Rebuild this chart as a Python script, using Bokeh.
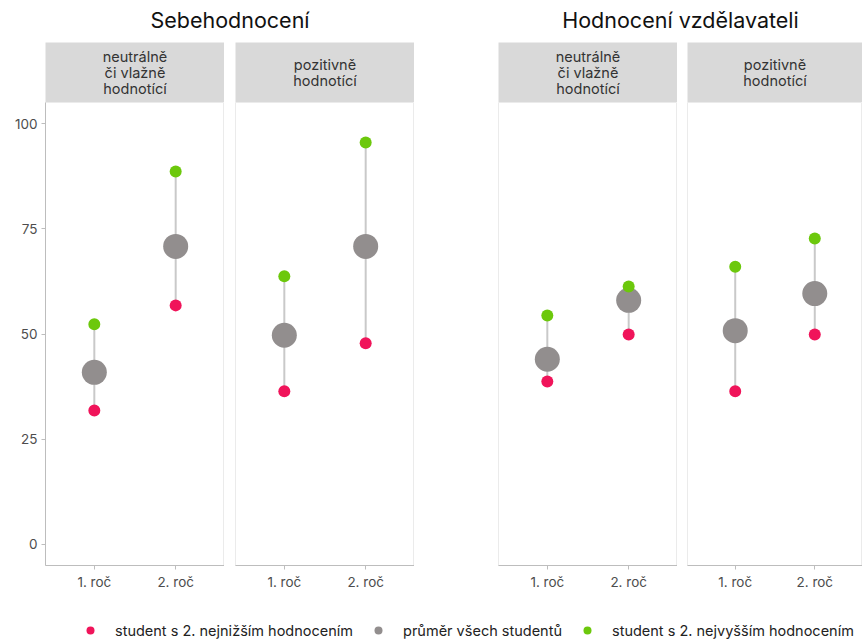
from bokeh.plotting import figure
from bokeh.layouts import column, row
from bokeh.models import Range1d, FactorRange, FixedTicker, ColumnDataSource, Legend, LegendItem
from bokeh.embed import file_html
from bokeh.resources import INLINE
from bokeh.core.properties import value

FONT = "Inter"

# ---------------- data ----------------
groups = ["Sebehodnocení", "Hodnocení vzdělavateli"]
facets = ["neutrálně\nči vlažně\nhodnotící", "pozitivně\nhodnotící"]
years = ["1. roč", "2. roč"]
y_ticks = [0, 25, 50, 75, 100]
series_labels = ["student s 2. nejnižším hodnocením",
                 "průměr všech studentů",
                 "student s 2. nejvyšším hodnocením"]

sebe_neutral_low = [31.8, 56.8]
sebe_neutral_mean = [40.9, 70.8]
sebe_neutral_high = [52.3, 88.6]

sebe_positive_low = [36.4, 47.8]
sebe_positive_mean = [49.7, 70.8]
sebe_positive_high = [63.7, 95.5]

vzdel_neutral_low = [38.7, 49.9]
vzdel_neutral_mean = [44.0, 58.0]
vzdel_neutral_high = [54.4, 61.3]

vzdel_positive_low = [36.4, 49.9]
vzdel_positive_mean = [50.8, 59.6]
vzdel_positive_high = [66.0, 72.7]

panels = [
    (facets[0], sebe_neutral_low, sebe_neutral_mean, sebe_neutral_high),
    (facets[1], sebe_positive_low, sebe_positive_mean, sebe_positive_high),
    (facets[0], vzdel_neutral_low, vzdel_neutral_mean, vzdel_neutral_high),
    (facets[1], vzdel_positive_low, vzdel_positive_mean, vzdel_positive_high),
]

# ---------------- style ----------------
RED = "#F0145A"
GREY = "#928E8E"
GREEN = "#6CC80C"
SEG = "#C9C9C9"
STRIP = "#D9D9D9"
AXIS = "#BDBDBD"
TXT = "#4D4D4D"

frame_w = [179, 179, 179, 175]
border_l = [45, 11, 84, 10]
TITLE_H = 42
STRIP_H = 60
FRAME_H = 463
BOTTOM = 28
LEGEND_H = 47


def strip_fig(i, label):
    p = figure(width=border_l[i] + frame_w[i], height=STRIP_H,
               x_range=Range1d(0, 1), y_range=Range1d(0, 1),
               output_backend="svg", toolbar_location=None,
               x_axis_location=None, y_axis_location=None,
               min_border_left=border_l[i], min_border_right=0,
               min_border_top=0, min_border_bottom=0,
               background_fill_color=STRIP, border_fill_color="white",
               outline_line_color=None)
    p.grid.grid_line_color = None
    p.text(x=[0.5], y=[0.5], text=[label], text_align="center",
           text_baseline="middle", text_font=value(FONT),
           text_font_size="14.5px", text_color="#333333", text_line_height=0.92)
    return p


def panel_fig(i, low, mean, high):
    p = figure(width=border_l[i] + frame_w[i], height=FRAME_H + BOTTOM,
               x_range=FactorRange(*years, range_padding=0.1, range_padding_units="percent"),
               y_range=Range1d(-5, 105),
               output_backend="svg", toolbar_location=None,
               y_axis_location="left" if i == 0 else None,
               min_border_left=border_l[i], min_border_right=0,
               min_border_top=0, min_border_bottom=BOTTOM,
               background_fill_color="white", border_fill_color="white",
               outline_line_color="#EBEBEB")
    p.grid.grid_line_color = None
    for ax in p.axis:
        ax.axis_line_color = AXIS
        ax.major_tick_line_color = AXIS
        ax.minor_tick_line_color = None
        ax.major_tick_out = 4
        ax.major_tick_in = 0
        ax.major_label_text_font = FONT
        ax.major_label_text_font_size = "13.5px"
        ax.major_label_text_color = TXT
        ax.major_label_standoff = 4
    if i == 0:
        p.yaxis.ticker = FixedTicker(ticks=y_ticks)
    src = ColumnDataSource(dict(year=years, low=low, mean=mean, high=high))
    p.segment(x0="year", y0="low", x1="year", y1="high", source=src,
              line_color=SEG, line_width=2)
    p.scatter(x="year", y="mean", source=src, size=25, fill_color=GREY,
              line_color=None)
    p.scatter(x="year", y="low", source=src, size=12, fill_color=RED,
              line_color=None)
    p.scatter(x="year", y="high", source=src, size=12, fill_color=GREEN,
              line_color=None)
    return p


def title_fig(text, width, bl):
    p = figure(width=width, height=TITLE_H, title=text,
               x_range=Range1d(0, 1), y_range=Range1d(0, 1),
               output_backend="svg", toolbar_location=None,
               x_axis_location=None, y_axis_location=None,
               min_border_left=bl, min_border_right=0,
               min_border_top=32, min_border_bottom=0,
               outline_line_color=None, border_fill_color="white")
    p.grid.grid_line_color = None
    p.title.align = "center"
    p.title.vertical_align = "bottom"
    p.title.text_font = FONT
    p.title.text_font_size = "21.5px"
    p.title.text_font_style = "normal"
    p.title.text_color = "#111111"
    p.title.standoff = 0
    return p


t1 = title_fig(groups[0], border_l[0] + frame_w[0] + border_l[1] + frame_w[1], border_l[0])
t2 = title_fig(groups[1], border_l[2] + frame_w[2] + border_l[3] + frame_w[3], border_l[2])

strips = [strip_fig(i, pnl[0]) for i, pnl in enumerate(panels)]
plots = [panel_fig(i, pnl[1], pnl[2], pnl[3]) for i, pnl in enumerate(panels)]

# legend figure (proxy glyphs lie outside the visible range; only their legend swatches show)
lg = figure(width=sum(border_l) + sum(frame_w), height=LEGEND_H,
            x_range=Range1d(0, 1), y_range=Range1d(0, 1),
            output_backend="svg", toolbar_location=None,
            x_axis_location=None, y_axis_location=None,
            min_border_left=0, min_border_right=0, min_border_top=0, min_border_bottom=0,
            outline_line_color=None, border_fill_color="white")
lg.grid.grid_line_color = None
items = []
for lab, col in zip(series_labels, [RED, GREY, GREEN]):
    r = lg.scatter(x=[-5], y=[-5], size=8, fill_color=col, line_color=None)
    items.append(LegendItem(label=lab, renderers=[r]))
legend = Legend(items=items, orientation="horizontal", location=(80, 0),
                border_line_color=None, background_fill_alpha=0,
                label_text_font=FONT, label_text_font_size="14.5px",
                label_text_color="#222222", glyph_width=20, glyph_height=20,
                label_standoff=15, spacing=15, padding=0, margin=0)
lg.add_layout(legend, "center")

layout = column(
    row(t1, t2),
    row(*strips),
    row(*plots),
    lg,
)

open("out.html", "w").write(file_html(layout, INLINE))
